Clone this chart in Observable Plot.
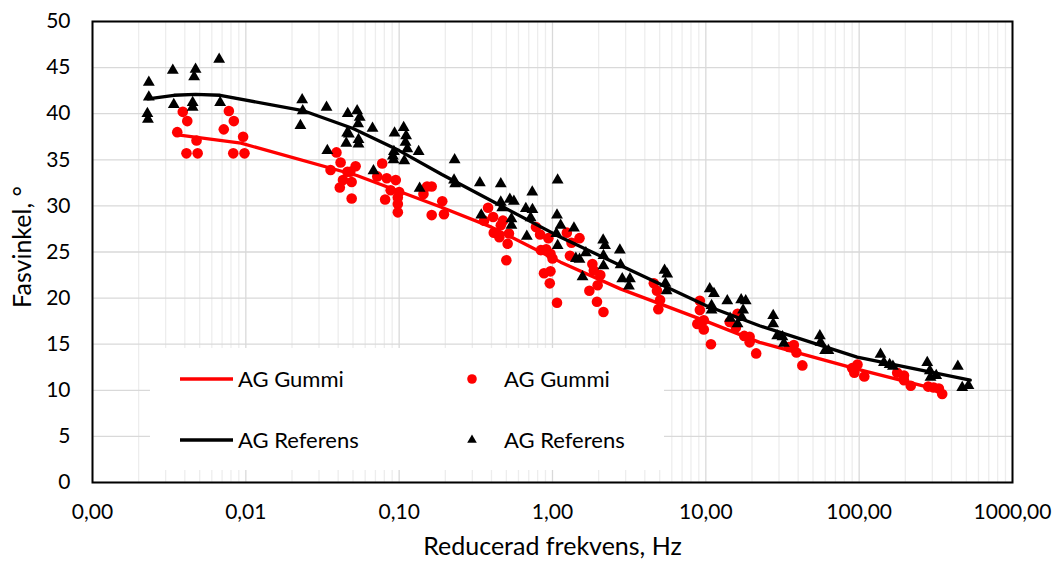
<!DOCTYPE html>
<html>
<head>
<meta charset="utf-8">
<script src="https://cdn.jsdelivr.net/npm/d3@7"></script>
<script src="https://cdn.jsdelivr.net/npm/@observablehq/plot@0.6"></script>
<style>
  html, body { margin: 0; padding: 0; background: #fff; }
  #wrap { position: relative; width: 1056px; height: 566px; font-family: Lato, "Open Sans", sans-serif; }
  #legend { position: absolute; left: 150px; top: 348px; width: 514px; height: 122px; background: #fff; }
</style>
</head>
<body>
<div id="wrap"><div id="chart"></div><div id="legend"></div></div>
<script>
// ---- Data ----
const seriesNames = ["AG Gummi", "AG Referens"];

// AG Gummi measured points (red circles)
const gummiFreq = [
  0.00388, 0.00415, 0.00357, 0.00477, 0.0041, 0.00485, 0.00775, 0.00835, 0.00718, 0.0096, 0.00828, 0.0098,
  0.039, 0.0415, 0.052, 0.0357, 0.0775,
  0.046, 0.048, 0.043, 0.049, 0.041, 0.049, 0.072, 0.083, 0.095, 0.088, 0.1, 0.081, 0.098, 0.098, 0.098,
  0.152, 0.163, 0.144, 0.191, 0.163, 0.196,
  0.38, 0.358, 0.41, 0.475, 0.46, 0.414, 0.52, 0.45, 0.51, 0.5,
  0.78, 0.83, 0.94, 0.84, 0.91, 0.97, 1.0, 0.88, 0.97, 0.96, 1.07,
  1.24, 1.33, 1.5, 1.3, 1.82, 1.86, 2.05, 1.74, 1.97, 1.95, 2.15,
  4.58, 4.8, 5.03, 4.9, 9.14, 9.14, 8.8, 9.7, 9.7, 10.8,
  16.1, 14.3, 15.7, 17.8, 19.3, 19.3, 21.3,
  34.8, 37.5, 39, 42.6, 90, 97.5, 93, 108,
  177, 196, 196, 217, 282, 306, 331, 348
];
const gummiPhase = [
  40.2, 39.2, 38.0, 37.1, 35.7, 35.7, 40.3, 39.2, 38.3, 37.5, 35.7, 35.7,
  35.8, 34.7, 34.3, 33.9, 34.6,
  33.7, 33.7, 32.8, 32.6, 32.0, 30.8, 33.2, 33.0, 32.8, 31.7, 31.5, 30.7, 30.9, 30.2, 29.3,
  32.1, 32.1, 31.3, 30.5, 29.0, 29.1,
  29.8, 28.4, 28.8, 28.4, 27.9, 27.1, 27.0, 26.6, 25.9, 24.1,
  27.7, 26.9, 26.5, 25.2, 25.3, 24.8, 24.3, 22.7, 22.9, 21.6, 19.5,
  27.1, 26.0, 26.5, 24.6, 23.7, 23.0, 22.5, 20.8, 21.4, 19.6, 18.5,
  21.6, 20.8, 19.8, 18.8, 19.7, 18.7, 17.2, 17.6, 16.6, 15.0,
  18.3, 17.4, 16.8, 15.9, 15.8, 15.2, 14.0,
  14.7, 14.9, 14.1, 12.7, 12.4, 12.8, 11.9, 11.5,
  11.9, 11.6, 11.1, 10.5, 10.4, 10.3, 10.2, 9.6
];

// AG Referens measured points (black triangles)
const referensFreq = [
  0.00233, 0.00233, 0.00228, 0.0023, 0.00334, 0.00339, 0.0047, 0.0046, 0.0045, 0.0045, 0.0067, 0.0068,
  0.0233, 0.0235, 0.0227, 0.0336, 0.0462, 0.0532, 0.0553, 0.054, 0.0458, 0.047, 0.0452, 0.0543, 0.0543,
  0.067, 0.034, 0.0933, 0.0924, 0.091, 0.092, 0.068,
  0.107, 0.111, 0.11, 0.113, 0.108, 0.134, 0.23, 0.228, 0.232, 0.336, 0.136, 0.343,
  0.46, 1.08, 0.738, 0.46, 0.47, 0.527, 0.56, 0.67, 0.74, 0.54, 0.54, 0.72, 1.07, 1.13, 0.68, 1.06, 1.08,
  1.38, 2.14, 2.2, 1.42, 1.5, 1.65, 2.15, 1.57, 2.15,
  2.75, 2.78, 2.85, 3.2, 3.15, 5.38, 5.6, 5.45, 5.55,
  10.6, 11.3, 10.9, 10.9, 13.8, 17.0, 18.2, 17.5, 14.4, 16.1, 17.2,
  27.5, 27.5, 29.2, 31.6, 32.3, 55.4, 56, 60, 63,
  137.8, 145, 158, 166, 278, 289, 318, 292, 440, 470, 516
];
const referensPhase = [
  43.4, 41.8, 40.0, 39.4, 44.7, 41.0, 44.8, 44.0, 41.2, 40.7, 45.9, 41.2,
  41.5, 40.3, 38.7, 40.7, 40.0, 40.3, 39.6, 38.9, 37.9, 37.8, 36.8, 37.2, 36.7,
  38.4, 36.0, 37.9, 35.9, 35.4, 35.0, 33.8,
  38.5, 37.6, 36.9, 36.2, 34.9, 35.9, 35.0, 32.8, 32.4, 32.5, 31.9, 29.0,
  32.4, 32.8, 31.5, 30.4, 29.8, 30.7, 30.5, 29.7, 29.6, 28.6, 27.9, 28.7, 29.0, 27.9, 26.7, 27.0, 25.7,
  27.6, 26.3, 25.7, 24.3, 24.2, 24.9, 23.5, 22.3, 24.6,
  25.2, 23.6, 22.1, 22.1, 21.3, 23.0, 22.6, 21.6, 20.8,
  21.0, 20.5, 19.2, 18.7, 19.7, 19.8, 19.7, 18.7, 17.8, 17.2, 17.9,
  18.1, 17.2, 15.9, 15.8, 15.1, 15.9, 15.2, 14.3, 14.3,
  13.9, 13.0, 12.8, 12.6, 13.0, 12.1, 11.6, 11.4, 12.6, 10.3, 10.5
];

// Fitted curves (lines)
const gummiFitFreq  = [0.0036, 0.0093, 0.053, 0.185, 0.4, 1.13, 2.77, 10, 22.4, 97, 340];
const gummiFitPhase = [37.7, 36.8, 33.3, 29.9, 27.7, 23.9, 21.0, 17.5, 15.2, 12.3, 10.0];
const referensFitFreq  = [0.0023, 0.0034, 0.0047, 0.0068, 0.024, 0.05, 0.1, 0.19, 0.375, 1.07, 2.8, 10, 22.4, 97, 530];
const referensFitPhase = [41.6, 42.0, 42.1, 42.0, 40.3, 38.4, 36.0, 33.4, 30.8, 26.8, 23.5, 19.2, 17.0, 13.6, 11.1];

// Axes
const xTicks = [0.001, 0.01, 0.1, 1, 10, 100, 1000];
const xTickLabels = ["0,00", "0,01", "0,10", "1,00", "10,00", "100,00", "1000,00"];
const yTicks = [0, 5, 10, 15, 20, 25, 30, 35, 40, 45, 50];
const xTitle = "Reducerad frekvens, Hz";
const yTitle = "Fasvinkel, °";

// ---- Build tables ----
const gummi = gummiFreq.map((f, i) => ({f, p: gummiPhase[i]}));
const referens = referensFreq.map((f, i) => ({f, p: referensPhase[i]}));
const gummiFit = gummiFitFreq.map((f, i) => ({f, p: gummiFitPhase[i]}));
const referensFit = referensFitFreq.map((f, i) => ({f, p: referensFitPhase[i]}));

// minor log gridlines
const minorX = [];
for (let e = -3; e < 3; e++) for (let m = 2; m <= 9; m++) minorX.push(m * Math.pow(10, e));

const chart = Plot.plot({
  width: 1056,
  height: 566,
  marginLeft: 92,
  marginRight: 44,
  marginTop: 21,
  marginBottom: 84,
  style: {fontFamily: "Lato, 'Open Sans', sans-serif", fontSize: "21px", color: "#000", background: "#fff", overflow: "visible"},
  x: {type: "log", domain: [0.001, 1000], ticks: xTicks, tickFormat: d => xTickLabels[xTicks.indexOf(d)], tickSize: 0, tickPadding: 22, label: null},
  y: {domain: [0, 50], ticks: yTicks, tickSize: 0, tickPadding: 22, label: null},
  marks: [
    Plot.ruleX(minorX, {stroke: "#ededed", strokeWidth: 1.3}),
    Plot.ruleX(xTicks, {stroke: "#d9d9d9", strokeWidth: 1.3}),
    Plot.ruleY(yTicks, {stroke: "#d9d9d9", strokeWidth: 1.3}),
    Plot.line(gummiFit, {x: "f", y: "p", stroke: "#ff0000", strokeWidth: 3.3}),
    Plot.dot(gummi, {x: "f", y: "p", r: 5.3, fill: "#ff0000", symbol: "circle"}),
    Plot.line(referensFit, {x: "f", y: "p", stroke: "#000", strokeWidth: 3.3}),
    Plot.dot(referens, {x: "f", y: "p", r: 4.4, fill: "#000", symbol: "triangle"}),
    Plot.frame({stroke: "#000", strokeWidth: 2}),
    Plot.text([yTitle], {frameAnchor: "left", textAnchor: "middle", dx: -70, dy: -5, rotate: -90, fontSize: 25, fill: "#000"}),
    Plot.text([xTitle], {frameAnchor: "bottom", textAnchor: "middle", dy: 72, fontSize: 25, fill: "#000"})
  ]
});
document.getElementById("chart").appendChild(chart);

// ---- Legend (inside plot area, white box) ----
const lg = d3.select("#legend").append("svg").attr("width", 514).attr("height", 122)
  .style("font-family", "Lato, 'Open Sans', sans-serif").style("font-size", "22px");
const rows = [
  {name: seriesNames[0], color: "#ff0000", y: 31, sym: d3.symbolCircle, size: 72},
  {name: seriesNames[1], color: "#000", y: 92, sym: d3.symbolTriangle, size: 40}
];
rows.forEach(r => {
  lg.append("line").attr("x1", 30).attr("x2", 83).attr("y1", r.y).attr("y2", r.y)
    .attr("stroke", r.color).attr("stroke-width", 3.3);
  lg.append("text").attr("x", 88).attr("y", r.y).attr("dy", "0.35em").text(r.name);
  lg.append("path").attr("d", d3.symbol(r.sym, r.size)()).attr("transform", `translate(322,${r.y})`).attr("fill", r.color);
  lg.append("text").attr("x", 354).attr("y", r.y).attr("dy", "0.35em").text(r.name);
});
</script>
</body>
</html>
